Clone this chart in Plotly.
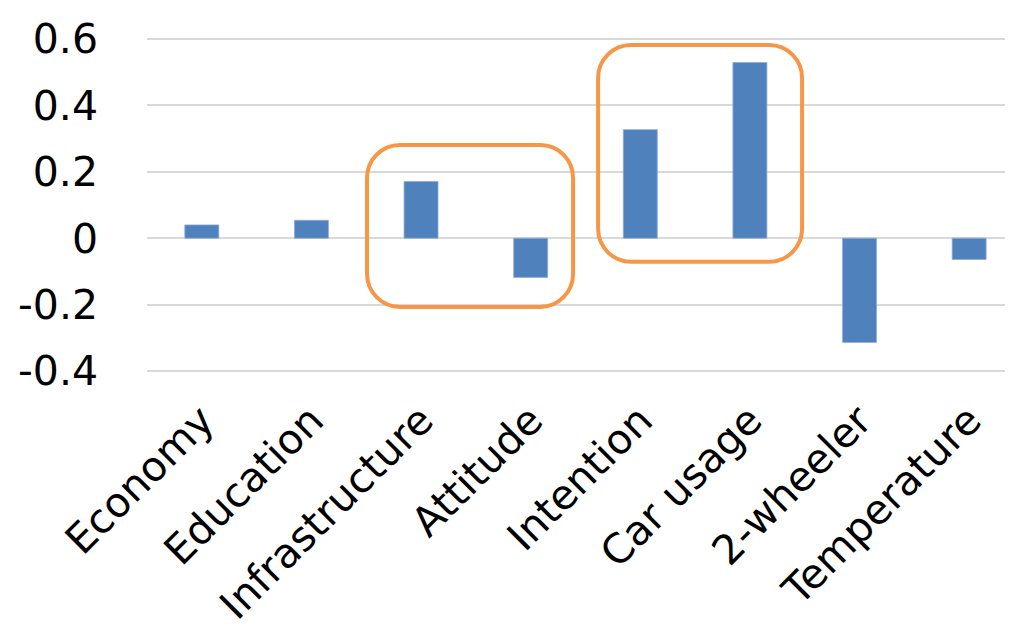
import plotly.graph_objects as go

categories = ["Economy", "Education", "Infrastructure", "Attitude",
              "Intention", "Car usage", "2-wheeler", "Temperature"]
values = [0.04, 0.054, 0.171, -0.118, 0.327, 0.529, -0.314, -0.064]
y_ticks = [-0.4, -0.2, 0, 0.2, 0.4, 0.6]
y_ticktext = ["-0.4", "-0.2", "0", "0.2", "0.4", "0.6"]

BAR = "#4F81BD"
ORANGE = "#F79646"
GRID = "#D9D9D9"
FONT = "DejaVu Sans"

x_idx = list(range(len(categories)))

fig = go.Figure()
fig.add_trace(go.Bar(x=x_idx, y=values, width=0.31,
                     marker=dict(color=BAR, line=dict(width=0.8, color="#8FAADC"))))


def rounded_rect(x0, x1, y0, y1, rx, ry):
    k = 0.5523
    return (f"M {x0+rx},{y1} L {x1-rx},{y1} "
            f"C {x1-rx+k*rx},{y1} {x1},{y1-ry+k*ry} {x1},{y1-ry} "
            f"L {x1},{y0+ry} "
            f"C {x1},{y0+ry-k*ry} {x1-rx+k*rx},{y0} {x1-rx},{y0} "
            f"L {x0+rx},{y0} "
            f"C {x0+rx-k*rx},{y0} {x0},{y0+ry-k*ry} {x0},{y0+ry} "
            f"L {x0},{y1-ry} "
            f"C {x0},{y1-ry+k*ry} {x0+rx-k*rx},{y1} {x0+rx},{y1} Z")


boxes = [(2 - 0.493, 3 + 0.387, -0.207, 0.281),
         (4 - 0.385, 5 + 0.476, -0.071, 0.582)]
for (bx0, bx1, by0, by1) in boxes:
    fig.add_shape(type="path", xref="x", yref="y",
                  path=rounded_rect(bx0, bx1, by0, by1, 0.30, 0.10),
                  line=dict(color=ORANGE, width=4), layer="above")

fig.update_layout(
    width=1005, height=628,
    margin=dict(l=139, r=0, t=29, b=263),
    paper_bgcolor="white", plot_bgcolor="white",
    showlegend=False,
    font=dict(family=FONT, size=40, color="black"),
)
fig.update_xaxes(range=[-0.5, 7.40], tickvals=x_idx, ticktext=categories,
                 tickangle=-45, showgrid=False, zeroline=False, showline=False,
                 ticks="", ticklabelstandoff=14, automargin=False,
                 tickfont=dict(family=FONT, size=41, color="black"))
fig.update_yaxes(range=[-0.406, 0.606], tickvals=y_ticks, ticktext=y_ticktext,
                 showgrid=True, gridcolor=GRID, gridwidth=1.5,
                 zeroline=True, zerolinecolor=GRID, zerolinewidth=1.5,
                 showline=False, ticks="", ticklabelstandoff=48, automargin=False,
                 tickfont=dict(family=FONT, size=41, color="black"))

fig.write_html("out.html")
